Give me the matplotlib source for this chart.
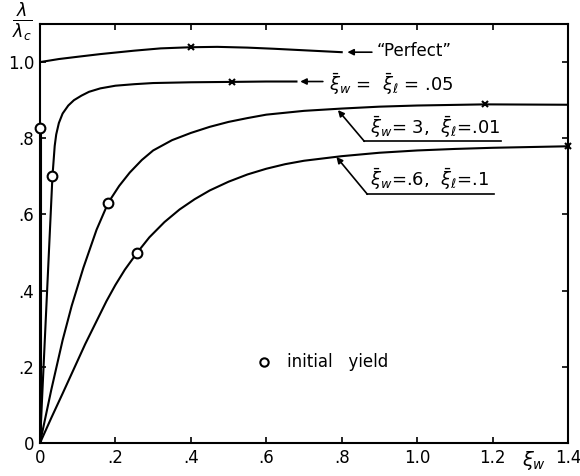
import numpy as np
import matplotlib
matplotlib.use("Agg")
import matplotlib.pyplot as plt

plt.rcParams["font.family"] = ["DejaVu Sans"]
plt.rcParams["mathtext.fontset"] = "dejavusans"

# "Perfect" curve
perf_x = [0, 0.05, 0.1, 0.16, 0.25, 0.32, 0.4, 0.47, 0.55, 0.62, 0.7, 0.8]
perf_y = [1.0, 1.008, 1.014, 1.021, 1.03, 1.036, 1.039, 1.04, 1.038, 1.035, 1.031, 1.026]
perf_mark = (0.4, 1.039)

# xi_w = xi_l = .05
c2_x = [0, 0.033, 0.036, 0.039, 0.043, 0.05, 0.06, 0.075, 0.09, 0.11, 0.13, 0.16,
        0.2, 0.25, 0.3, 0.4, 0.51, 0.6, 0.68]
c2_y = [0, 0.70, 0.74, 0.78, 0.81, 0.84, 0.865, 0.886, 0.90, 0.912, 0.922, 0.931,
        0.938, 0.942, 0.945, 0.947, 0.948, 0.949, 0.949]
c2_mark = (0.51, 0.948)

# xi_w = 3, xi_l = .01
c3_x = [0, 0.03, 0.06, 0.084, 0.115, 0.15, 0.181, 0.21, 0.238, 0.27, 0.3, 0.35, 0.4,
        0.45, 0.5, 0.55, 0.6, 0.7, 0.8, 0.9, 1.0, 1.18, 1.4]
c3_y = [0, 0.14, 0.27, 0.36, 0.46, 0.56, 0.631, 0.675, 0.71, 0.743, 0.768, 0.795, 0.814,
        0.83, 0.843, 0.853, 0.862, 0.872, 0.878, 0.883, 0.886, 0.889, 0.888]
c3_mark = (1.18, 0.889)

# xi_w = .6, xi_l = .1
c4_x = [0, 0.03, 0.06, 0.12, 0.176, 0.2, 0.225, 0.257, 0.29, 0.33, 0.37, 0.41, 0.45,
        0.5, 0.55, 0.6, 0.65, 0.7, 0.8, 0.9, 1.0, 1.1, 1.2, 1.3, 1.4]
c4_y = [0, 0.066, 0.13, 0.26, 0.372, 0.415, 0.455, 0.499, 0.54, 0.58, 0.613, 0.64, 0.663,
        0.686, 0.705, 0.72, 0.732, 0.741, 0.753, 0.762, 0.768, 0.772, 0.775, 0.777, 0.779]
c4_mark = (1.4, 0.779)

# initial yield points
yield_x = [0.0, 0.033, 0.181, 0.257]
yield_y = [0.826, 0.70, 0.631, 0.499]

xticks = [0, 0.2, 0.4, 0.6, 0.8, 1.0, 1.2, 1.4]
xlabels = ["0", ".2", ".4", ".6", ".8", "1.0", "1.2", "1.4"]
yticks = [0, 0.2, 0.4, 0.6, 0.8, 1.0]
ylabels = ["0", ".2", ".4", ".6", ".8", "1.0"]

fig = plt.figure(figsize=(5.8, 4.76), dpi=100)
ax = fig.add_axes([40 / 580, 1 - 443 / 476, 528 / 580, 419 / 476])

lw = 1.5
ax.plot(perf_x, perf_y, color="black", lw=lw)
ax.plot(c2_x, c2_y, color="black", lw=lw)
ax.plot(c3_x, c3_y, color="black", lw=lw)
ax.plot(c4_x, c4_y, color="black", lw=lw)
ax.plot([0.002, 0.002], [0, yield_y[0]], color="black", lw=lw)

for m in [perf_mark, c2_mark, c3_mark, c4_mark]:
    ax.plot(*m, marker="x", ms=5, mew=1.5, color="black", clip_on=False)

ax.plot(yield_x, yield_y, ls="none", marker="o", ms=7, mew=1.5,
        mfc="white", mec="black", zorder=5, clip_on=False)

arrow = dict(arrowstyle="-|>", lw=1.2, color="black", mutation_scale=9,
             shrinkA=0, shrinkB=0)

ax.annotate("", xy=(0.815, 1.026), xytext=(0.88, 1.026), arrowprops=arrow)
ax.text(0.893, 1.03, "\u201cPerfect\u201d", fontsize=12, va="center")

ax.annotate("", xy=(0.69, 0.949), xytext=(0.75, 0.949), arrowprops=arrow)
ax.text(0.765, 0.943, r"$\bar{\xi}_w$ =  $\bar{\xi}_\ell$ = .05", fontsize=13, va="center")

ax.annotate("", xy=(0.79, 0.874), xytext=(0.86, 0.792), arrowprops=arrow)
ax.plot([0.86, 1.222], [0.792, 0.792], color="black", lw=1.2)
ax.text(0.875, 0.83, r"$\bar{\xi}_w$= 3,  $\bar{\xi}_\ell$=.01", fontsize=13, va="center")

ax.annotate("", xy=(0.786, 0.751), xytext=(0.868, 0.653), arrowprops=arrow)
ax.plot([0.868, 1.204], [0.653, 0.653], color="black", lw=1.2)
ax.text(0.875, 0.692, r"$\bar{\xi}_w$=.6,  $\bar{\xi}_\ell$=.1", fontsize=13, va="center")

ax.plot(0.595, 0.213, marker="o", ms=6, mew=1.5, mfc="white", mec="black")
ax.text(0.655, 0.213, "initial   yield", fontsize=12, va="center")

ax.set_xlim(0, 1.4)
ax.set_ylim(0, 1.1)
ax.set_xticks(xticks)
ax.set_xticklabels(xlabels)
ax.set_yticks(yticks)
ax.set_yticklabels(ylabels)
ax.tick_params(direction="in", length=4, width=1.2, top=True, right=True,
               labelsize=12, pad=4)
for s in ax.spines.values():
    s.set_linewidth(1.5)

ax.text(1.31, -0.045, r"$\xi_w$", fontsize=14, ha="center", va="center",
        transform=ax.transData, clip_on=False)
fig.text(22 / 580, 1 - 22 / 476, r"$\frac{\lambda}{\lambda_c}$", fontsize=18,
         ha="center", va="center")

fig.savefig("out.png", dpi=100)
